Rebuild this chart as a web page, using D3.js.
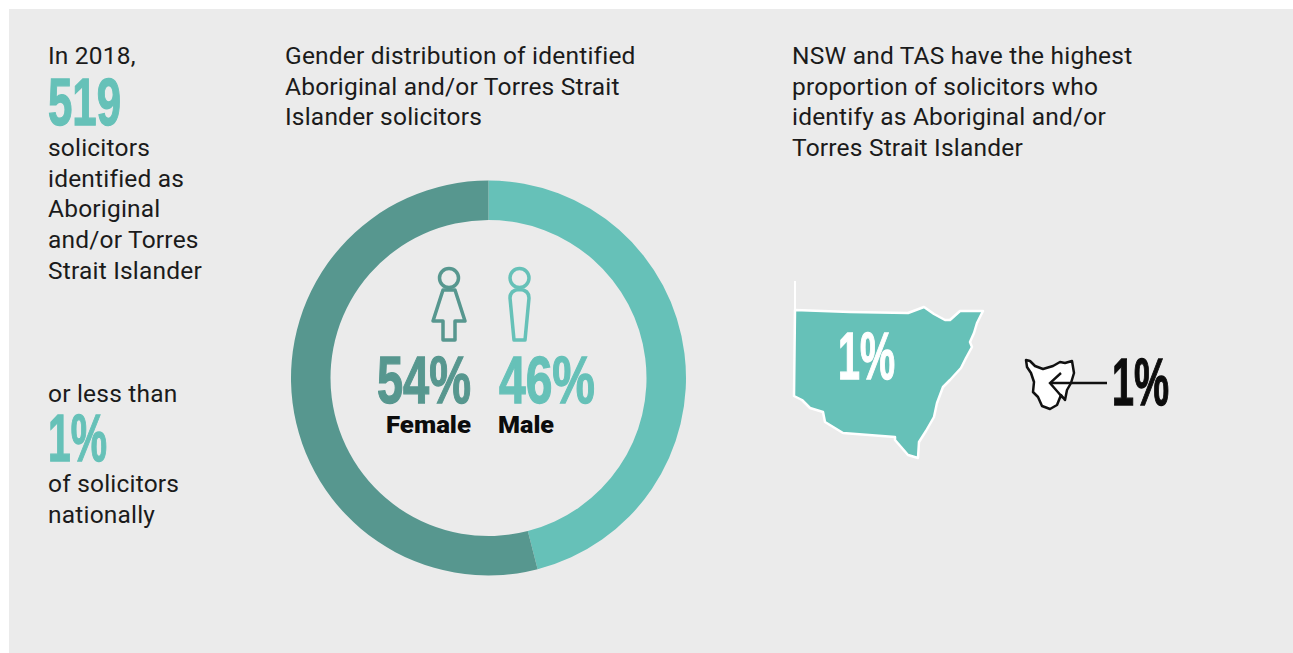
<!DOCTYPE html>
<html>
<head>
<meta charset="utf-8">
<script src="https://cdn.jsdelivr.net/npm/d3@7"></script>
<style>
  html, body { margin: 0; padding: 0; background: #fff; }
  svg { display: block; }
  .body { font-family: Roboto, sans-serif; font-size: 24.5px; letter-spacing: 0.2px; fill: #1b1b1b; }
  .big { font-family: "Liberation Sans Narrow", "Liberation Sans", sans-serif; font-weight: 700; stroke-width: 1.3px; }
</style>
</head>
<body>
<svg id="chart"></svg>
<script>
const width = 1293;
const height = 653;
const teal = '#66c1b8';
const darkTeal = '#57978f';

// donut values
const genders = ['Male', 'Female'];
const genderShare = [46, 54];

// headline numbers
const totalSolicitors = 519;
const nationalShare = 1;
const nswShare = 1;
const tasShare = 1;

const introLines = ['In 2018,'];
const solicitorLines = ['solicitors', 'identified as', 'Aboriginal', 'and/or Torres', 'Strait Islander'];
const lessLines = ['or less than'];
const nationalLines = ['of solicitors', 'nationally'];
const donutTitle = ['Gender distribution of identified', 'Aboriginal and/or Torres Strait', 'Islander solicitors'];
const mapTitle = ['NSW and TAS have the highest', 'proportion of solicitors who', 'identify as Aboriginal and/or', 'Torres Strait Islander'];

// outlines
const nswOutline = [[795, 310], [850, 312], [908, 313], [924, 307], [934, 314], [945, 320], [950, 320], [960, 311], [983, 311], [977, 323], [974, 333], [970, 342], [972, 347], [966, 358], [961, 368], [950, 380], [943, 387], [937, 403], [934, 417], [926, 431], [919, 442], [918, 458], [908, 455], [895, 440], [895, 437], [843, 433], [825, 422], [823, 412], [810, 408], [802, 400], [794, 396]];
const tasOutline = [[1026, 360], [1030, 361], [1035, 366], [1043, 369], [1053, 366], [1060, 362], [1065, 363], [1072, 361], [1073, 367], [1074, 373], [1071, 383], [1067, 390], [1065, 400], [1061, 395], [1057, 405], [1050, 409], [1042, 406], [1038, 397], [1033, 392], [1034, 382], [1031, 373], [1027, 367]];

const svg = d3.select('#chart').attr('width', width).attr('height', height);

svg.append('rect')
  .attr('x', 9).attr('y', 9)
  .attr('width', width - 9).attr('height', height - 9)
  .attr('fill', '#ebebeb');

function textBlock(lines, x, y) {
  svg.append('g').selectAll('text')
    .data(lines)
    .join('text')
    .attr('class', 'body')
    .attr('x', x)
    .attr('y', (d, i) => y + i * 30.7)
    .text(d => d);
}

// condensed display figures, squeezed to the measured width
function bigText(label, x, baseline, w, size, fill) {
  svg.append('text')
    .attr('class', 'big')
    .attr('x', x)
    .attr('y', baseline)
    .attr('font-size', size)
    .attr('textLength', w)
    .attr('lengthAdjust', 'spacingAndGlyphs')
    .attr('fill', fill)
    .attr('stroke', fill)
    .text(label);
}

textBlock(introLines, 48, 64);
bigText(totalSolicitors, 48, 125, 73, 66, teal);
textBlock(solicitorLines, 48, 156);
textBlock(lessLines, 48, 402);
bigText(nationalShare + '%', 48, 461, 59, 66, teal);
textBlock(nationalLines, 48, 492);
textBlock(donutTitle, 285, 64);
textBlock(mapTitle, 792, 64);

// donut
const cx = 488.5;
const cy = 378;
const pie = d3.pie().sort(null);
const arc = d3.arc().innerRadius(158).outerRadius(197.5);
const colour = d3.scaleOrdinal().domain(genders).range([teal, darkTeal]);

svg.append('g')
  .attr('transform', `translate(${cx},${cy})`)
  .selectAll('path')
  .data(pie(genderShare))
  .join('path')
  .attr('d', arc)
  .attr('fill', (d, i) => colour(genders[i]));

// figures in the middle of the donut
const line = d3.line();
const closed = d3.line().curve(d3.curveLinearClosed);

svg.append('circle').attr('cx', 449).attr('cy', 278).attr('r', 9.5)
  .attr('fill', 'none').attr('stroke', darkTeal).attr('stroke-width', 3.5);
svg.append('path')
  .attr('d', closed([[443, 290], [455, 290], [465, 321], [455, 321], [455, 340], [443, 340], [443, 321], [433, 321]]))
  .attr('fill', 'none').attr('stroke', darkTeal).attr('stroke-width', 3.5).attr('stroke-linejoin', 'round');

svg.append('circle').attr('cx', 519.5).attr('cy', 278).attr('r', 9.5)
  .attr('fill', 'none').attr('stroke', teal).attr('stroke-width', 3.5);
svg.append('path')
  .attr('d', 'M510 298Q510 290 519.5 289.5Q529 290 529 298L525 340H514Z')
  .attr('fill', 'none').attr('stroke', teal).attr('stroke-width', 3.5).attr('stroke-linejoin', 'round');

bigText(genderShare[1] + '%', 377, 403, 94, 66, darkTeal);
bigText(genderShare[0] + '%', 499, 403, 96, 66, teal);

svg.append('g').selectAll('text')
  .data([{ t: genders[1], x: 386, w: 85 }, { t: genders[0], x: 498, w: 56 }])
  .join('text')
  .attr('x', d => d.x)
  .attr('y', 433)
  .attr('font-family', 'Roboto, sans-serif')
  .attr('font-weight', 900)
  .attr('font-size', 24)
  .attr('textLength', d => d.w)
  .attr('lengthAdjust', 'spacingAndGlyphs')
  .attr('fill', '#0c0c0c')
  .text(d => d.t);

// NSW
svg.append('path')
  .attr('d', closed(nswOutline))
  .attr('fill', teal)
  .attr('stroke', '#fff')
  .attr('stroke-width', 2.5)
  .attr('stroke-linejoin', 'round');
svg.append('path')
  .attr('d', line([[795, 281], [795, 310]]))
  .attr('stroke', '#fff')
  .attr('stroke-width', 2);
bigText(nswShare + '%', 838, 379, 57, 66, '#fff');

// TAS
svg.append('path')
  .attr('d', closed(tasOutline))
  .attr('fill', '#fff')
  .attr('stroke', '#111')
  .attr('stroke-width', 2.5)
  .attr('stroke-linejoin', 'round');
svg.append('path')
  .attr('d', line([[1107, 383], [1051, 383]]))
  .attr('fill', 'none').attr('stroke', '#111').attr('stroke-width', 2.4);
svg.append('path')
  .attr('d', line([[1061, 373], [1050, 383], [1063, 398]]))
  .attr('fill', 'none').attr('stroke', '#111').attr('stroke-width', 2.4);
bigText(tasShare + '%', 1112, 405, 57, 66, '#0c0c0c');
</script>
</body>
</html>
